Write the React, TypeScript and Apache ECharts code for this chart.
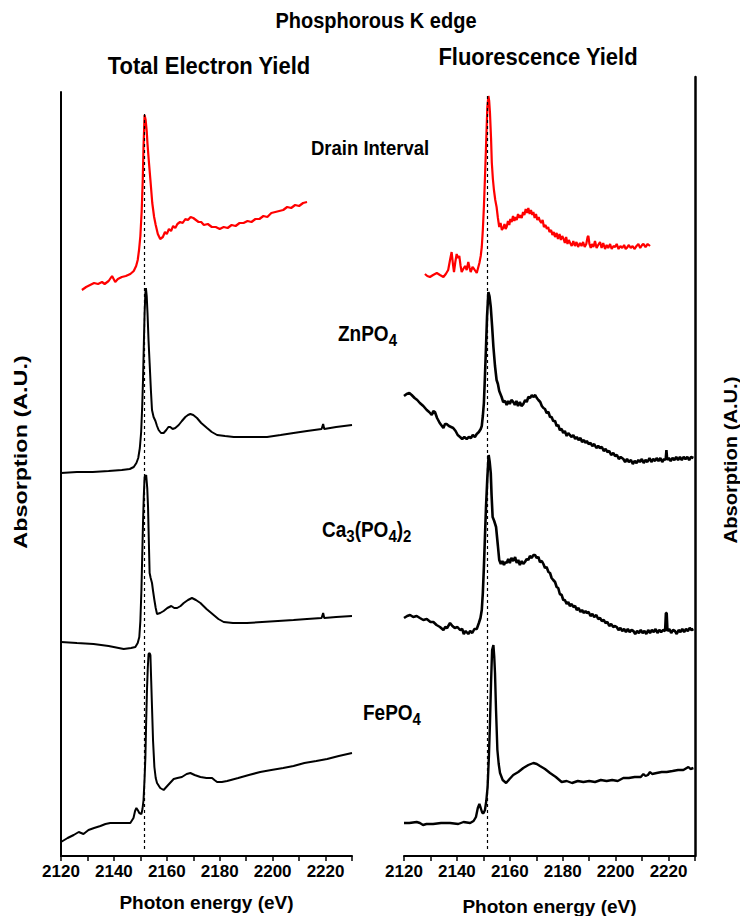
import React, { useEffect, useRef } from "react";
import * as echarts from "echarts";

const FONT = '"Liberation Sans", Arial, Helvetica, sans-serif';

// Energy axis ticks (eV)
const X_MIN = 2120;
const X_MAX = 2230;
const X_STEP = 10;
const EDGE_E = 2151.5; // dashed reference line

// ---- Total Electron Yield (left panel) ----
const teyDrain: number[][] = [[2127.9,56.6],[2129.5,56.9],[2131,57.1],[2132.5,57.3],[2134,57.2],[2135.5,57.4],[2136.5,57.2],[2138,57.5],[2139.3,58.0],[2140.5,57.4],[2141.5,57.7],[2143,57.9],[2144.5,58.0],[2146.2,58.2],[2147.5,58.5],[2148.4,59.0],[2149,59.6],[2149.5,60.6],[2150,62],[2150.5,64.5],[2150.9,67.6],[2151.2,71],[2151.6,74.1],[2152,73.6],[2152.4,72.5],[2152.7,71.2],[2153.2,69.5],[2153.8,67.6],[2154.5,65.3],[2155.2,63.9],[2155.8,63.1],[2156.6,62.2],[2157.5,61.7],[2158.5,61.9],[2159.3,62.4],[2160,62.2],[2160.8,62.7],[2161.6,62.5],[2162.4,63],[2163.2,62.8],[2164,63.2],[2165,63.4],[2166,63.3],[2167,63.7],[2168,63.6],[2169,63.9],[2170,63.8],[2171,63.6],[2172,63.4],[2173,63.4],[2174,63.1],[2175.5,63.2],[2177,62.9],[2178.5,62.9],[2180,62.7],[2181.5,62.9],[2183,62.8],[2184.5,63.1],[2186,63.0],[2187.5,63.3],[2189,63.3],[2190.5,63.5],[2192,63.4],[2193.5,63.7],[2195,63.7],[2196.5,64.0],[2198,63.9],[2199.5,64.3],[2201,64.4],[2202.5,64.5],[2204,64.6],[2205.5,64.9],[2207,64.8],[2208.5,65.1],[2210,65.0],[2211.5,65.3],[2213,65.4]];

const teyZn: number[][] = [[2120,38.3],[2126,38.4],[2132,38.4],[2138,38.5],[2143,38.6],[2146,38.7],[2147.5,38.9],[2148.5,39.3],[2149.2,39.8],[2149.8,40.8],[2150.3,42.4],[2150.7,45],[2151.0,47.6],[2151.3,51],[2151.6,54.3],[2151.9,56.3],[2152.1,56.8],[2152.4,56],[2152.7,54.3],[2153.1,51.5],[2153.5,49.3],[2154,46.5],[2154.4,44.6],[2155,43.9],[2155.7,43.5],[2156.3,43],[2156.9,42.6],[2157.8,42.3],[2158.8,42.3],[2159.8,42.6],[2160.6,42.9],[2161.3,42.9],[2162.2,42.7],[2163.2,42.8],[2164.5,43.1],[2165.7,43.5],[2167,43.9],[2168,44.1],[2168.9,44.2],[2170,44.1],[2171.4,43.8],[2173,43.3],[2175.2,42.8],[2177,42.4],[2179,42.1],[2182,42.0],[2185.3,41.9],[2190,41.9],[2197.9,41.9],[2203,42.1],[2207.9,42.3],[2213,42.5],[2218.5,42.7],[2219.1,43.2],[2219.5,42.7],[2224,42.9],[2230,43.1]];

const teyCa: number[][] = [[2120,21.4],[2126,21.3],[2132.3,21.2],[2138,21.0],[2143.7,20.7],[2146.5,20.8],[2148.1,20.9],[2149,21.3],[2149.6,21.9],[2150,23.5],[2150.4,26.6],[2150.7,30],[2151.0,33.3],[2151.3,36],[2151.6,37.9],[2152.2,38.1],[2152.6,36.8],[2152.9,34.9],[2153.2,31.5],[2153.5,28.3],[2153.9,27.8],[2154.4,27.3],[2154.8,26.5],[2155.3,25.6],[2155.8,24.8],[2156.3,24.2],[2157.5,24.3],[2158.8,24.5],[2160.2,24.8],[2161.7,25.0],[2162.8,24.8],[2163.9,24.8],[2165.2,25.0],[2166.4,25.3],[2168,25.6],[2169.5,25.8],[2171,25.6],[2172.7,25.3],[2175,24.7],[2177.7,24.1],[2179.5,23.7],[2181.5,23.4],[2185,23.3],[2190.3,23.3],[2196,23.4],[2202,23.5],[2207.9,23.6],[2213,23.7],[2218.5,23.8],[2219.1,24.3],[2219.5,23.8],[2224,23.9],[2230,24.0]];

const teyFe: number[][] = [[2120,1.4],[2122.5,1.8],[2124.8,2.1],[2126.7,2.4],[2128.5,2.2],[2130.4,2.6],[2132.5,2.8],[2134.9,3.0],[2136.8,3.2],[2138.6,3.3],[2142,3.3],[2146.2,3.3],[2147.4,3.8],[2148,4.5],[2148.5,4.8],[2149,4.6],[2149.6,4.3],[2150.4,4.2],[2150.8,4.7],[2151.2,5.6],[2151.6,7.8],[2151.9,9.9],[2152.2,13.5],[2152.5,16.6],[2152.8,18.8],[2153.1,20.2],[2153.5,20.3],[2153.8,20.1],[2154.1,17.5],[2154.4,14.9],[2154.8,11.5],[2155.3,8.9],[2155.8,7.8],[2156.3,7.3],[2157.5,6.8],[2158.8,6.6],[2160.5,7.1],[2162.6,7.7],[2164,7.8],[2165.7,7.9],[2167.5,8.2],[2168.9,8.3],[2170.5,8.1],[2172.7,7.9],[2175,7.8],[2177.1,7.8],[2178,7.6],[2179,7.4],[2180.8,7.4],[2182.8,7.5],[2187,7.8],[2191,8.1],[2195.3,8.4],[2199.5,8.6],[2204,8.8],[2207.9,9.0],[2212,9.3],[2216.5,9.5],[2220.6,9.7],[2225,10.0],[2230,10.3]];

// ---- Fluorescence Yield (right panel) ----
const fyDrain: number[][] = [[2127.9,58.2],[2128.8,58.0],[2129.8,57.9],[2131,58.1],[2132.4,58.3],[2133.6,58.1],[2134.9,57.9],[2135.8,58.2],[2136.7,58.6],[2137.4,59.6],[2138.0,60.4],[2138.5,59.2],[2138.9,58.4],[2139.4,59.4],[2139.9,60.2],[2140.4,59.8],[2140.9,60.0],[2141.4,59.0],[2141.8,58.4],[2142.4,58.7],[2143.1,59.0],[2143.7,58.6],[2144.3,59.4],[2144.8,58.8],[2145.2,58.4],[2145.9,58.9],[2146.5,58.7],[2147,58.5],[2147.5,58.3],[2148,58.8],[2148.5,59.3],[2149,60],[2149.4,60.9],[2149.8,62.6],[2150.2,64.9],[2150.6,67.8],[2151.0,70.9],[2151.5,74.9],[2151.9,76.0],[2152.2,75.5],[2152.5,74.3],[2152.9,71.8],[2153.2,69.3],[2153.6,67.7],[2154.0,66.6],[2154.5,65.6],[2155.0,64.9],[2155.5,63.8],[2156.0,62.9],[2156.5,63.3],[2157,62.6],[2157.5,62.8],[2158,63.2],[2158.4,62.7],[2158.8,62.9],[2159.3,63.5],[2159.8,63.1],[2160.2,63.7],[2160.7,63.4],[2161.2,64.0],[2161.7,63.5],[2162.1,63.9],[2162.6,63.6],[2163.1,64.2],[2163.6,63.8],[2164,64.1],[2164.5,63.8],[2165,64.4],[2165.5,64.1],[2166,64.7],[2166.5,64.3],[2167,64.8],[2167.5,64.2],[2168,64.6],[2168.5,64.1],[2168.9,64.4],[2169.4,63.8],[2169.9,64.2],[2170.4,63.6],[2170.9,63.9],[2171.4,63.5],[2171.9,63.3],[2172.4,63.6],[2172.9,62.9],[2173.5,63.1],[2174,62.7],[2174.5,62.9],[2175,62.4],[2175.6,62.6],[2176.1,62.1],[2176.6,62.4],[2177.1,61.9],[2177.7,62.3],[2178.2,61.7],[2178.8,62.2],[2179.3,61.6],[2179.8,62.0],[2180.2,61.8],[2180.8,61.3],[2181.3,61.9],[2181.8,61.2],[2182.3,61.6],[2182.8,61.3],[2183.4,61.0],[2184,61.5],[2184.6,61.0],[2185.2,61.4],[2185.8,60.9],[2186.5,61.3],[2187.1,61.0],[2187.7,61.4],[2188.3,60.9],[2188.9,61.2],[2189.4,61.9],[2189.7,62.0],[2190.1,61.2],[2190.6,60.8],[2191,61.2],[2191.6,60.9],[2192.2,61.5],[2192.8,60.8],[2193.4,61.1],[2194.1,61.4],[2194.7,60.8],[2195.3,61.3],[2196,60.7],[2196.6,61.1],[2197.2,60.8],[2197.9,61.2],[2198.5,60.7],[2199.2,61.0],[2199.8,60.9],[2200.4,61.2],[2201.1,60.7],[2201.8,61.0],[2202.5,60.8],[2203.2,61.1],[2203.8,60.7],[2204.2,60.8],[2205,61.1],[2205.7,60.8],[2206.4,61.0],[2207.1,60.7],[2207.9,61.0],[2208.6,61.2],[2209.3,60.8],[2210,61.1],[2210.5,61.2],[2211.3,60.9],[2212.1,61.2],[2213,61.0]];

const fyZn: number[][] = [[2120,46.0],[2121,46.2],[2122,46.3],[2122.9,46.1],[2124,45.8],[2125,45.6],[2126,45.3],[2127.3,45.0],[2128.6,44.6],[2129.5,44.4],[2130.5,44.1],[2131.1,44.5],[2131.7,44.4],[2132.5,43.8],[2133.5,43.3],[2134.9,42.8],[2135.5,43.2],[2136.1,43.2],[2137,43.0],[2138.6,42.8],[2139.5,42.5],[2140.3,42.1],[2141.2,41.9],[2142,41.7],[2142.8,41.9],[2143.7,41.7],[2144.5,41.9],[2145.3,41.8],[2146,42.1],[2146.8,41.9],[2147.5,42.2],[2148.3,42.4],[2149,42.7],[2149.4,43.0],[2149.8,44],[2150.2,45.3],[2150.6,48],[2151.0,50.9],[2151.4,54],[2151.9,56.4],[2152.3,56.0],[2152.8,54.9],[2153.3,53],[2153.8,50.9],[2154.4,49],[2155.0,47.6],[2155.5,47.2],[2156,46.5],[2156.9,45.9],[2157.5,45.4],[2158.2,45.5],[2158.8,45.1],[2159.4,45.5],[2160,45.2],[2160.6,45.6],[2161.3,45.4],[2161.9,45.1],[2162.5,45.5],[2163.1,45.0],[2163.8,45.4],[2164.4,45.0],[2165.1,45.2],[2165.8,45.6],[2166.4,45.4],[2167,45.9],[2167.7,45.8],[2168.3,46.1],[2168.9,45.9],[2169.6,46.1],[2170.2,45.8],[2170.8,45.6],[2171.5,45.4],[2172.1,45.0],[2172.7,44.8],[2173.3,44.7],[2173.9,44.3],[2174.6,44.4],[2175.2,43.9],[2175.8,43.9],[2176.4,43.5],[2177.1,43.5],[2177.7,43.0],[2178.3,43.1],[2178.9,42.6],[2179.6,42.7],[2180.2,42.3],[2180.8,42.5],[2181.5,42.0],[2182.1,42.3],[2182.7,42.1],[2183.4,41.9],[2184,42.1],[2184.7,41.7],[2185.3,41.9],[2186,41.6],[2186.7,41.8],[2187.3,41.4],[2188,41.6],[2188.6,41.3],[2189.1,41.5],[2189.8,41.2],[2190.5,41.3],[2191.2,41.0],[2191.9,41.2],[2192.7,40.8],[2193.4,41.0],[2194.1,40.8],[2194.8,40.9],[2195.5,40.5],[2196.2,40.7],[2196.9,40.4],[2197.6,40.5],[2198.3,40.1],[2199.1,40.3],[2199.8,40.0],[2200.5,40.1],[2201.2,39.7],[2201.9,39.9],[2202.9,39.7],[2203.6,39.4],[2204.3,39.7],[2205,39.4],[2205.8,39.6],[2206.5,39.2],[2207.2,39.5],[2207.9,39.3],[2208.6,39.6],[2209.2,39.4],[2209.9,39.7],[2210.6,39.3],[2211.3,39.6],[2212,39.4],[2212.8,39.8],[2213.5,39.4],[2214.2,39.7],[2214.9,39.5],[2215.5,39.8],[2216.2,39.5],[2216.9,39.8],[2217.6,39.4],[2218.3,39.7],[2218.9,39.6],[2219.2,40.6],[2219.5,39.6],[2220.1,39.8],[2220.8,39.5],[2221.5,39.8],[2222.2,39.6],[2222.9,39.9],[2223.6,39.6],[2224.3,39.9],[2225,39.6],[2225.7,39.9],[2226.4,39.7],[2227.1,39.9],[2227.8,39.6],[2228.5,39.9],[2229.4,39.8]];

const fyCa: number[][] = [[2120,23.8],[2121.2,24.0],[2122.3,24.1],[2123.5,23.9],[2124.8,24.0],[2126,23.8],[2127.3,23.6],[2128.6,23.7],[2130,23.4],[2131.1,23.4],[2132.3,23.1],[2133.6,22.9],[2134.9,22.6],[2135.6,22.9],[2136.3,22.8],[2137.4,23.3],[2138.3,23.0],[2139.2,22.8],[2140.2,22.9],[2141.2,22.6],[2142,22.7],[2142.6,22.2],[2143.3,22.5],[2144.3,22.2],[2145,22.5],[2145.8,22.3],[2146.6,22.7],[2147.5,22.7],[2148.3,23.3],[2148.9,23.8],[2149.4,24.6],[2149.8,26.3],[2150.2,28.9],[2150.6,31.9],[2151.0,34.9],[2151.5,37.8],[2152.0,40.1],[2152.4,39.4],[2152.8,38.3],[2153.1,36.1],[2153.5,33.9],[2154.1,33.5],[2154.8,32.9],[2155.5,31.0],[2156.0,29.6],[2156.6,29.2],[2157.2,29.5],[2157.8,29.1],[2158.3,29.4],[2158.8,29.3],[2159.4,29.7],[2160,29.3],[2160.6,29.8],[2161.3,29.5],[2162.0,29.9],[2162.6,29.3],[2163.2,29.6],[2163.8,29.1],[2164.5,29.5],[2165.1,29.2],[2165.7,29.4],[2166.4,29.7],[2167,29.6],[2167.6,30.0],[2168.3,29.8],[2168.9,30.1],[2169.5,30.1],[2170.2,29.8],[2170.8,29.9],[2171.4,29.4],[2172.1,29.5],[2172.7,29.2],[2173.3,28.8],[2173.9,28.9],[2174.6,28.4],[2175.2,28.3],[2175.8,27.8],[2176.4,27.6],[2177.1,27.4],[2177.7,26.9],[2178.3,26.8],[2178.9,26.2],[2179.6,26.1],[2180.2,25.6],[2180.8,25.6],[2181.5,25.2],[2182.1,25.4],[2182.7,25.0],[2183.4,25.2],[2184,24.9],[2184.7,25.0],[2185.3,24.6],[2186,24.8],[2186.7,24.4],[2187.3,24.6],[2188,24.3],[2188.6,24.5],[2189.1,24.3],[2189.8,24.4],[2190.5,24.0],[2191.2,24.2],[2191.9,23.9],[2192.7,24.1],[2193.4,23.7],[2194.1,23.8],[2194.8,23.5],[2195.5,23.6],[2196.2,23.3],[2196.9,23.4],[2197.6,23.0],[2198.3,23.2],[2199.1,22.9],[2199.8,23.0],[2200.4,22.9],[2201.1,22.6],[2201.8,22.8],[2202.5,22.5],[2203.2,22.7],[2203.9,22.4],[2204.6,22.7],[2205.3,22.4],[2206,22.6],[2206.7,22.5],[2207.4,22.2],[2208.1,22.5],[2208.8,22.3],[2209.5,22.6],[2210.2,22.3],[2210.9,22.5],[2211.6,22.2],[2212.3,22.6],[2213,22.3],[2213.7,22.6],[2214.4,22.4],[2215.1,22.7],[2215.8,22.3],[2216.5,22.6],[2217.2,22.4],[2218,22.6],[2218.7,22.5],[2219.0,24.3],[2219.3,24.3],[2219.6,22.5],[2220.3,22.7],[2221,22.3],[2221.7,22.6],[2222.4,22.5],[2223.1,22.2],[2223.8,22.6],[2224.5,22.4],[2225.2,22.7],[2225.9,22.4],[2226.6,22.7],[2227.3,22.5],[2228,22.8],[2228.7,22.6],[2229.4,22.7]];

const fyFe: number[][] = [[2120,3.3],[2122,3.3],[2124.8,3.4],[2126,3.3],[2127.2,3.1],[2128.5,3.2],[2131,3.2],[2134,3.3],[2137.4,3.3],[2140.5,3.2],[2142.5,3.4],[2145,3.3],[2146.3,3.5],[2147.2,3.9],[2147.9,4.8],[2148.5,5.2],[2149,4.8],[2149.6,4.3],[2150.1,4.3],[2150.6,4.6],[2151.1,5.5],[2151.6,6.9],[2152.1,10],[2152.5,13.3],[2152.9,17.3],[2153.3,20.6],[2153.8,21.1],[2154.1,20],[2154.4,18.3],[2154.8,14.5],[2155.3,10.6],[2155.8,9.2],[2156.3,8.3],[2157.3,7.6],[2158.6,7.3],[2159.9,7.7],[2161.3,8.1],[2163.2,8.4],[2165.1,8.8],[2167,9.1],[2168.9,9.3],[2170.2,9.2],[2171.4,9.0],[2173.3,8.7],[2175.2,8.3],[2177.4,7.9],[2179.6,7.4],[2181.5,7.5],[2183.5,7.3],[2185.7,7.5],[2187.8,7.4],[2190,7.5],[2192.2,7.4],[2194.4,7.6],[2196.6,7.5],[2198.7,7.6],[2200.8,7.5],[2202.9,7.8],[2205,7.8],[2207.2,7.9],[2209.5,7.9],[2210.5,8.2],[2211.3,8.0],[2212.2,8.1],[2213,8.4],[2213.8,8.2],[2215.5,8.3],[2217.4,8.4],[2219.3,8.4],[2221.5,8.5],[2223.6,8.6],[2225.6,8.6],[2227.5,8.9],[2228.3,8.7],[2229.4,8.8]];

// Dashed edge line extents (y units)
const EDGE_LEFT = [0.7, 74.3];
const EDGE_RIGHT = [0.7, 76.3];

// Texts
const TITLE = "Phosphorous K edge";
const PANEL_TITLES = ["Total Electron Yield", "Fluorescence Yield"];
const X_NAME = "Photon energy (eV)";
const Y_NAME = "Absorption (A.U.)";
const LABEL_DRAIN: [string, boolean][] = [["Drain Interval", false]];
const LABEL_ZN: [string, boolean][] = [["ZnPO", false], ["4", true]];
const LABEL_CA: [string, boolean][] = [["Ca", false], ["3", true], ["(PO", false], ["4", true], [")", false], ["2", true]];
const LABEL_FE: [string, boolean][] = [["FePO", false], ["4", true]];

let measureCtx: CanvasRenderingContext2D | null = null;
function textWidth(t: string, size: number): number {
  if (!measureCtx) measureCtx = document.createElement("canvas").getContext("2d");
  if (!measureCtx) return t.length * size * 0.6;
  measureCtx.font = `bold ${size}px ${FONT}`;
  return measureCtx.measureText(t).width;
}

function formula(parts: [string, boolean][], x: number, y: number, size: number, subSize: number, subDy: number, scaleY = 1.12) {
  const els: any[] = [];
  let cx = x;
  for (const [t, sub] of parts) {
    const s = sub ? subSize : size;
    els.push({
      type: "text",
      x: cx,
      y: sub ? y + subDy : y,
      scaleY,
      silent: true,
      style: { text: t, fill: "#000", fontSize: s, fontWeight: "bold", fontFamily: FONT, align: "left", verticalAlign: "middle" },
    });
    cx += textWidth(t, s);
  }
  return els;
}

function txt(text: string, x: number, y: number, size: number, rotation = 0, scaleX = 1, scaleY = 1) {
  return {
    type: "text",
    x,
    y,
    rotation,
    scaleX,
    scaleY,
    silent: true,
    style: { text, fill: "#000", fontSize: size, fontWeight: "bold", fontFamily: FONT, align: "center", verticalAlign: "middle" },
  };
}

function xAxisCfg(gridIndex: number, nameGap: number) {
  return {
    gridIndex,
    type: "value",
    min: X_MIN,
    max: X_MAX,
    interval: X_STEP,
    axisLine: { show: true, onZero: false, lineStyle: { color: "#000", width: 2 } },
    axisTick: { show: true, inside: false, length: 5, lineStyle: { color: "#000", width: 1.5 } },
    axisLabel: {
      color: "#000",
      fontSize: 17,
      fontWeight: "bold",
      fontFamily: FONT,
      margin: 7,
      formatter: (v: number) => (v % 20 === 0 && v < X_MAX ? String(v) : ""),
    },
    splitLine: { show: false },
    name: X_NAME,
    nameLocation: "middle",
    nameGap,
    nameTextStyle: { color: "#000", fontSize: 19, fontWeight: "bold", fontFamily: FONT },
  };
}

function lineSeries(data: number[][], idx: number, color: string, width: number, extra: any = {}) {
  return {
    type: "line",
    xAxisIndex: idx,
    yAxisIndex: idx,
    data,
    showSymbol: false,
    symbol: "none",
    smooth: false,
    lineStyle: { color, width },
    itemStyle: { color },
    z: 3,
    ...extra,
  };
}

function edgeMark(ext: number[]) {
  return {
    markLine: {
      silent: true,
      symbol: ["none", "none"],
      label: { show: false },
      lineStyle: { type: [3, 3], color: "#000", width: 1.2 },
      data: [[{ coord: [EDGE_E, ext[0]] }, { coord: [EDGE_E, ext[1]] }]],
    },
  };
}

export default function App() {
  const ref = useRef<HTMLDivElement>(null);
  useEffect(() => {
    if (!ref.current) return;
    const chart = echarts.init(ref.current, null, { renderer: "svg" });
    const graphic: any[] = [
      txt(TITLE, 376, 20, 20, 0, 1, 1.12),
      txt(PANEL_TITLES[0], 209, 66, 22, 0, 1, 1.05),
      txt(PANEL_TITLES[1], 538, 57, 22, 0, 1, 1.05),
      txt(Y_NAME, 21, 452, 18, Math.PI / 2, 1.3, 1),
      txt(Y_NAME, 731, 460, 18, Math.PI / 2, 1.12, 1),
      ...formula(LABEL_DRAIN, 311, 148, 18.5, 14, 6),
      ...formula(LABEL_ZN, 338, 334, 19, 15, 6),
      ...formula(LABEL_CA, 322, 530, 19, 15, 6),
      ...formula(LABEL_FE, 363, 713, 19, 15, 6),
    ];
    chart.setOption({
      animation: false,
      backgroundColor: "#fff",
      grid: [
        { left: 61, top: 92, width: 291, height: 764, containLabel: false, outerBoundsMode: "none" },
        { left: 404, top: 77, width: 291, height: 779, containLabel: false, outerBoundsMode: "none" },
      ],
      xAxis: [xAxisCfg(0, 37), xAxisCfg(1, 41)],
      yAxis: [
        {
          gridIndex: 0, type: "value", min: 0, max: 76.4, position: "left",
          axisLine: { show: true, onZero: false, lineStyle: { color: "#000", width: 2 } },
          axisTick: { show: false }, axisLabel: { show: false }, splitLine: { show: false },
        },
        {
          gridIndex: 1, type: "value", min: 0, max: 77.9, position: "right",
          axisLine: { show: true, onZero: false, lineStyle: { color: "#000", width: 2.5 } },
          axisTick: { show: false }, axisLabel: { show: false }, splitLine: { show: false },
        },
      ],
      series: [
        lineSeries(teyDrain, 0, "#ff0000", 2.2),
        lineSeries(teyZn, 0, "#000", 2),
        lineSeries(teyCa, 0, "#000", 2),
        lineSeries(teyFe, 0, "#000", 2, edgeMark(EDGE_LEFT)),
        lineSeries(fyDrain, 1, "#ff0000", 2.2),
        lineSeries(fyZn, 1, "#000", 2.6),
        lineSeries(fyCa, 1, "#000", 2.6),
        lineSeries(fyFe, 1, "#000", 2.4, edgeMark(EDGE_RIGHT)),
      ],
      graphic,
    });
    return () => chart.dispose();
  }, []);
  return (
    <div
      ref={ref}
      style={{ position: "fixed", left: 0, top: 0, width: 740, height: 916, background: "#fff" }}
    />
  );
}
